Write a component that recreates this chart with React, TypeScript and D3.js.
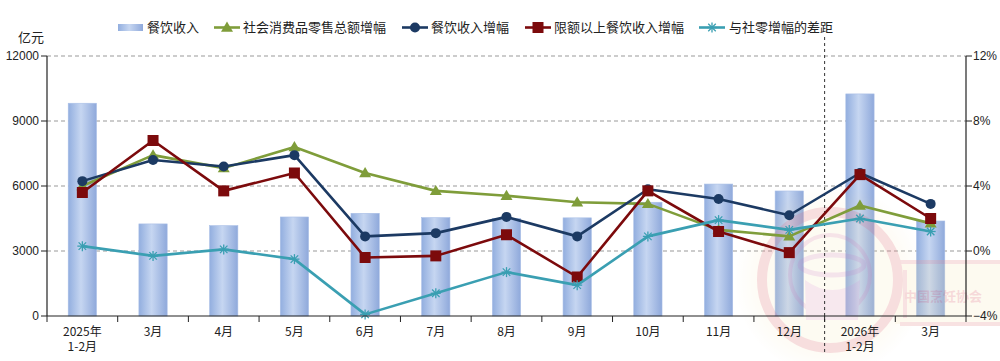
import React from "react";
import * as d3 from "d3";

const categories = ["2025年\n1-2月", "3月", "4月", "5月", "6月", "7月", "8月", "9月", "10月", "11月", "12月", "2026年\n1-2月", "3月"];
const revenue = [9820, 4250, 4170, 4570, 4740, 4540, 4500, 4530, 5250, 6090, 5770, 10250, 4385];
const retailGrowth = [4.0, 5.9, 5.1, 6.4, 4.8, 3.7, 3.4, 3.0, 2.9, 1.3, 0.9, 2.8, 1.7];
const cateringGrowth = [4.3, 5.6, 5.2, 5.9, 0.9, 1.1, 2.1, 0.9, 3.8, 3.2, 2.2, 4.8, 2.9];
const aboveLimitGrowth = [3.6, 6.8, 3.7, 4.8, -0.4, -0.3, 1.0, -1.6, 3.7, 1.2, -0.1, 4.7, 2.0];
const gapGrowth = [0.3, -0.3, 0.1, -0.5, -3.9, -2.6, -1.3, -2.1, 0.9, 1.9, 1.3, 2.0, 1.2];
const leftTicks = [0, 3000, 6000, 9000, 12000];
const rightTicks = [-4, 0, 4, 8, 12];
const legendLabels = ["餐饮收入", "社会消费品零售总额增幅", "餐饮收入增幅", "限额以上餐饮收入增幅", "与社零增幅的差距"];

const W = 1000, H = 361;
const L = 47, R = 966, T = 56, B = 316;
const FONT = "'Liberation Sans', 'Noto Sans CJK SC', sans-serif";
const CJK = "'Noto Sans CJK SC', sans-serif";

const GREEN = "#7f9d3a";
const BLUE = "#1c3a63";
const RED = "#7c0a0c";
const CYAN = "#3a9fb2";

function Marker({ type, x, y, color }: { type: string; x: number; y: number; color: string }) {
  if (type === "tri") {
    const s = 6;
    return <path d={`M${x},${y - s} L${x + s},${y + s * 0.7} L${x - s},${y + s * 0.7} Z`} fill={color} />;
  }
  if (type === "circle") return <circle cx={x} cy={y} r={5} fill={color} />;
  if (type === "square") return <rect x={x - 5.5} y={y - 5.5} width={11} height={11} fill={color} />;
  if (type === "star") {
    const s = 5;
    return (
      <g stroke={color} strokeWidth={1.3}>
        <line x1={x - s} y1={y} x2={x + s} y2={y} />
        <line x1={x} y1={y - s} x2={x} y2={y + s} />
        <line x1={x - s * 0.75} y1={y - s * 0.75} x2={x + s * 0.75} y2={y + s * 0.75} />
        <line x1={x - s * 0.75} y1={y + s * 0.75} x2={x + s * 0.75} y2={y - s * 0.75} />
      </g>
    );
  }
  return null;
}

export default function App() {
  const idx = categories.map((_, i) => String(i));
  const x = d3.scaleBand<string>().domain(idx).range([L, R]).padding(0);
  const yL = d3.scaleLinear().domain([0, 12000]).range([B, T]);
  const yR = d3.scaleLinear().domain([-4, 12]).range([B, T]);
  const bw = x.bandwidth() * 0.4;
  const cx = (i: number) => (x(String(i)) as number) + x.bandwidth() / 2;

  const series = [
    { data: retailGrowth, color: GREEN, marker: "tri" },
    { data: cateringGrowth, color: BLUE, marker: "circle" },
    { data: aboveLimitGrowth, color: RED, marker: "square" },
    { data: gapGrowth, color: CYAN, marker: "star" },
  ];
  const line = d3.line<number>().x((_, i) => cx(i)).y((d) => yR(d));

  const boundaries = d3.range(categories.length + 1).map((i) => L + i * x.bandwidth());
  const splitX = L + 11 * x.bandwidth();

  const legendItems = [
    { x: 118, tx: 147, type: "bar", color: "" },
    { x: 214, tx: 243, type: "tri", color: GREEN },
    { x: 402, tx: 431, type: "circle", color: BLUE },
    { x: 525, tx: 554, type: "square", color: RED },
    { x: 699, tx: 729, type: "star", color: CYAN },
  ];

  return (
    <svg width={W} height={H} style={{ position: "absolute", left: 0, top: 0, background: "#fff" }}>
      <defs>
        <linearGradient id="barGrad" x1="0" x2="1" y1="0" y2="0">
          <stop offset="0" stopColor="#92aedf" />
          <stop offset="0.45" stopColor="#c6d6f1" />
          <stop offset="1" stopColor="#8fa9db" />
        </linearGradient>
        <radialGradient id="halo">
          <stop offset="0.7" stopColor="#f7e3a8" stopOpacity={0.5} />
          <stop offset="1" stopColor="#f7e3a8" stopOpacity={0} />
        </radialGradient>
      </defs>

      {/* grid */}
      {leftTicks.filter((t) => t > 0).map((t) => (
        <line key={t} x1={L} x2={R} y1={yL(t)} y2={yL(t)} stroke="#999" strokeDasharray="4,3" strokeWidth={1} />
      ))}

      {/* bars */}
      {revenue.map((v, i) => (
        <rect key={i} x={cx(i) - bw / 2} y={yL(v)} width={bw} height={B - yL(v)} fill="url(#barGrad)" stroke="#a9bfe6" strokeWidth={0.6} />
      ))}

      {/* watermark (faint, over bars) */}
      <g opacity={0.28}>
        <circle cx={830} cy={280} r={95} fill="url(#halo)" />
        <rect x={895} y={262} width={105} height={62} fill="#f7e3a8" opacity={0.6} />
        <path d="M900,262 L1000,262 M900,324 L1000,324 M905,270 L905,318" stroke="#e79a9a" strokeWidth={4} fill="none" />
        <circle cx={830} cy={280} r={68} fill="none" stroke="#e58a8a" strokeWidth={10} />
        <circle cx={830} cy={275} r={40} fill="none" stroke="#e0a0b0" strokeWidth={4} />
        <ellipse cx={832} cy={265} rx={32} ry={10} fill="none" stroke="#d9a0b8" strokeWidth={5} />
        <path d="M805,280 Q832,300 860,280 L858,320 L806,320 Z" fill="#e3b0c4" />
        <text x={943} y={301} fontFamily={CJK} fontSize={13} fill="#e07a7a" textAnchor="middle" fontWeight="bold">中国烹饪协会</text>
      </g>

      {/* split line */}
      <line x1={splitX} x2={splitX} y1={37} y2={352} stroke="#333" strokeDasharray="3,3" strokeWidth={1} />

      {/* lines */}
      {series.map((s, k) => (
        <g key={k}>
          <path d={line(s.data) as string} fill="none" stroke={s.color} strokeWidth={2.6} strokeLinejoin="round" />
          {s.data.map((d, i) => (
            <Marker key={i} type={s.marker} x={cx(i)} y={yR(d)} color={s.color} />
          ))}
        </g>
      ))}

      {/* axes */}
      <line x1={L} x2={L} y1={T} y2={B} stroke="#222" strokeWidth={1.2} />
      <line x1={R} x2={R} y1={T} y2={B} stroke="#222" strokeWidth={1.2} />
      <line x1={L} x2={R} y1={B} y2={B} stroke="#222" strokeWidth={1.2} />
      {leftTicks.map((t) => (
        <g key={t}>
          <line x1={L - 6} x2={L} y1={yL(t)} y2={yL(t)} stroke="#222" />
          <text x={L - 8} y={yL(t)} dy="0.35em" textAnchor="end" fontFamily={FONT} fontSize={12} fill="#222">{t}</text>
        </g>
      ))}
      {rightTicks.map((t) => (
        <g key={t}>
          <line x1={R} x2={R + 6} y1={yR(t)} y2={yR(t)} stroke="#222" />
          <text x={R + 7} y={yR(t)} dy="0.35em" textAnchor="start" fontFamily={FONT} fontSize={12} fill="#222">{t < 0 ? "−" + Math.abs(t) : t}%</text>
        </g>
      ))}
      {boundaries.map((b, i) => (
        <line key={i} x1={b} x2={b} y1={B} y2={B + 6} stroke="#222" />
      ))}
      {categories.map((c, i) =>
        c.split("\n").map((ln, j) => (
          <text key={`${i}-${j}`} x={cx(i)} y={332 + j * 15} dy="0.35em" textAnchor="middle" fontFamily={CJK} fontSize={12} fill="#222">{ln}</text>
        ))
      )}
      <text x={31} y={37} dy="0.35em" textAnchor="middle" fontFamily={CJK} fontSize={13} fill="#222">亿元</text>

      {/* legend */}
      {legendItems.map((it, i) => (
        <g key={i}>
          {it.type === "bar" ? (
            <rect x={it.x} y={24} width={25} height={7} fill="url(#barGrad)" />
          ) : (
            <g>
              <line x1={it.x} x2={it.x + 26} y1={27.5} y2={27.5} stroke={it.color} strokeWidth={2.6} />
              <Marker type={it.type} x={it.x + 13} y={27.5} color={it.color} />
            </g>
          )}
          <text x={it.tx} y={27.5} dy="0.35em" fontFamily={CJK} fontSize={13} fill="#222">{legendLabels[i]}</text>
        </g>
      ))}
    </svg>
  );
}
